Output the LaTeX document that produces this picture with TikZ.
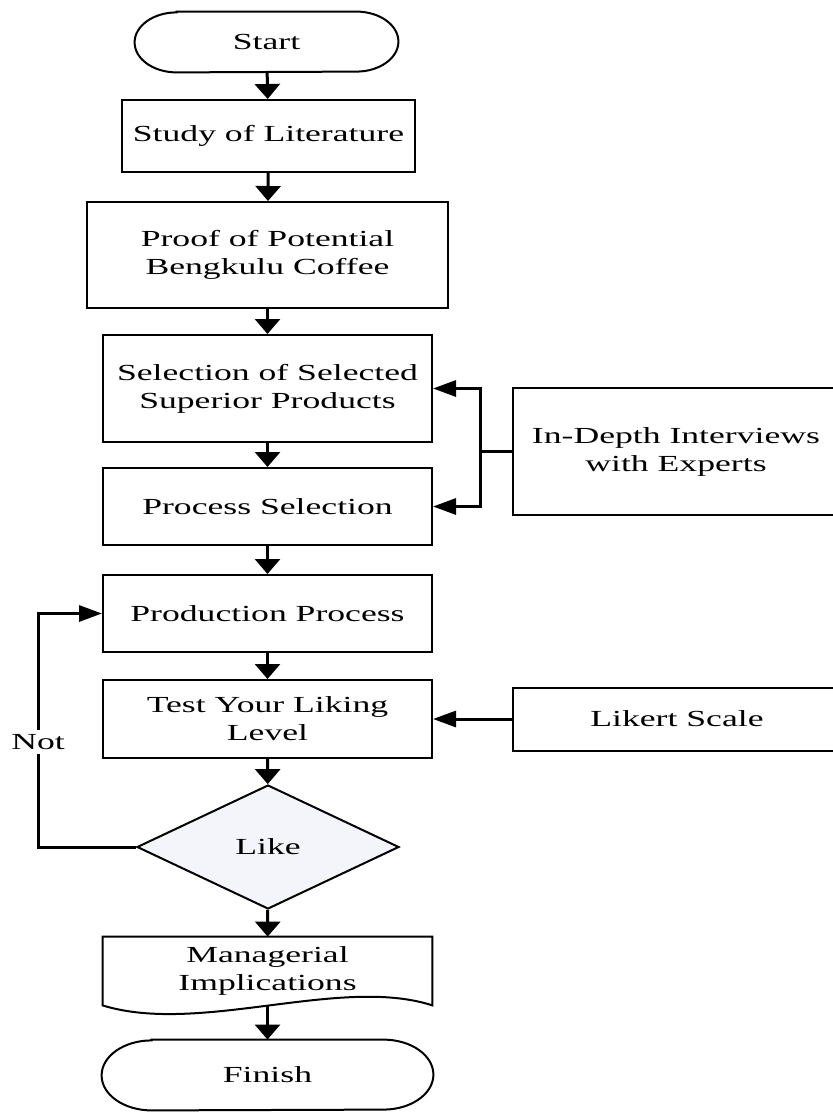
\documentclass[tikz,border=0pt]{standalone}
\usepackage{fontspec}
\setmainfont{Liberation Serif}[FakeStretch=1.55]
\usetikzlibrary{shapes.geometric,arrows.meta}
\definecolor{likefill}{RGB}{244,245,251}

\begin{document}
\begin{tikzpicture}[x=0.5pt,y=-0.5pt,
  font=\fontsize{11.5}{14}\selectfont,
  box/.style={draw,line width=1pt,align=center,inner sep=0pt},
  conn/.style={line width=1.5pt},
  arrv/.style={conn,-{Triangle[length=7.5pt,width=12.5pt]}},
  arrh/.style={conn,-{Triangle[length=11.5pt,width=8pt]}}]

\useasboundingbox (0,0) rectangle (833,1118);

% main column
\node[minimum width=131.5pt,minimum height=30pt] (start) at (266.5,42) {Start};
\node[box,minimum width=146.5pt,minimum height=36pt] (study) at (268.5,136) {Study of Literature};
\node[box,minimum width=180.5pt,minimum height=53pt] (proof) at (267.5,255) {Proof of Potential\\Bengkulu Coffee};
\node[box,minimum width=164.5pt,minimum height=53.5pt] (select) at (267.5,388.5) {Selection of Selected\\Superior Products};
\node[box,minimum width=164.5pt,minimum height=38.5pt] (procsel) at (267.5,506.5) {Process Selection};
\node[box,minimum width=164.5pt,minimum height=38.5pt] (prod) at (267.5,613.5) {Production Process};
\node[box,minimum width=164.5pt,minimum height=39pt] (test) at (267.5,719) {Test Your Liking\\Level};
\node[draw,line width=1pt,diamond,aspect=2.1,inner sep=0pt,fill=likefill,
      minimum width=131pt,minimum height=62pt] (like) at (268,847) {Like};
\node[align=center,inner sep=0pt,minimum width=164.5pt,minimum height=34pt] (impl) at (267.5,971) {Managerial\\Implications};
\node[minimum width=165.5pt,minimum height=35pt] (finish) at (267.5,1075) {Finish};

% side boxes
\node[box,minimum width=163pt,minimum height=63.5pt] (interview) at (676,451.5) {In-Depth Interviews\\with Experts};
\node[box,minimum width=164pt,minimum height=31.5pt] (likert) at (677,719) {Likert Scale};

% terminals and document shape
\draw[line width=1pt] ([xshift=21pt]start.north west) -- ([xshift=-21pt]start.north east)
  arc[start angle=90,end angle=-90,x radius=21pt,y radius=15pt]
  -- ([xshift=21pt]start.south west)
  arc[start angle=270,end angle=90,x radius=21pt,y radius=15pt] -- cycle;
\draw[line width=1pt] ([xshift=25pt]finish.north west) -- ([xshift=-25pt]finish.north east)
  arc[start angle=90,end angle=-90,x radius=25pt,y radius=17.5pt]
  -- ([xshift=25pt]finish.south west)
  arc[start angle=270,end angle=90,x radius=25pt,y radius=17.5pt] -- cycle;
\draw[line width=1pt] (impl.north west) -- (impl.north east) -- (impl.south east)
  .. controls ([xshift=-46pt,yshift=15pt]impl.south east) and ([xshift=48.5pt,yshift=-15pt]impl.south west) .. (impl.south west) -- cycle;

% arrows
\draw[arrv] (start) -- (study);
\draw[arrv] (study) -- (proof);
\draw[arrv] (proof) -- (select);
\draw[arrv] (select) -- (procsel);
\draw[arrv] (procsel) -- (prod);
\draw[arrv] (prod) -- (test);
\draw[arrv] (test) -- (like);
\draw[arrv] (like) -- (impl);
\draw[arrv] (impl.south) -- (finish);

\coordinate (jn) at (480,451.5);
\draw[conn] (interview.west) -- (jn);
\draw[arrh] (jn) |- (select.east);
\draw[arrh] (jn) |- (procsel.east);
\draw[arrh] (likert) -- (test);

\coordinate (bend) at (38,847);
\draw[arrh] (like.west) -- (bend) |- node[pos=0.225,fill=white,inner sep=2pt] (nolabel) {Not} (prod.west);

\end{tikzpicture}
\end{document}
